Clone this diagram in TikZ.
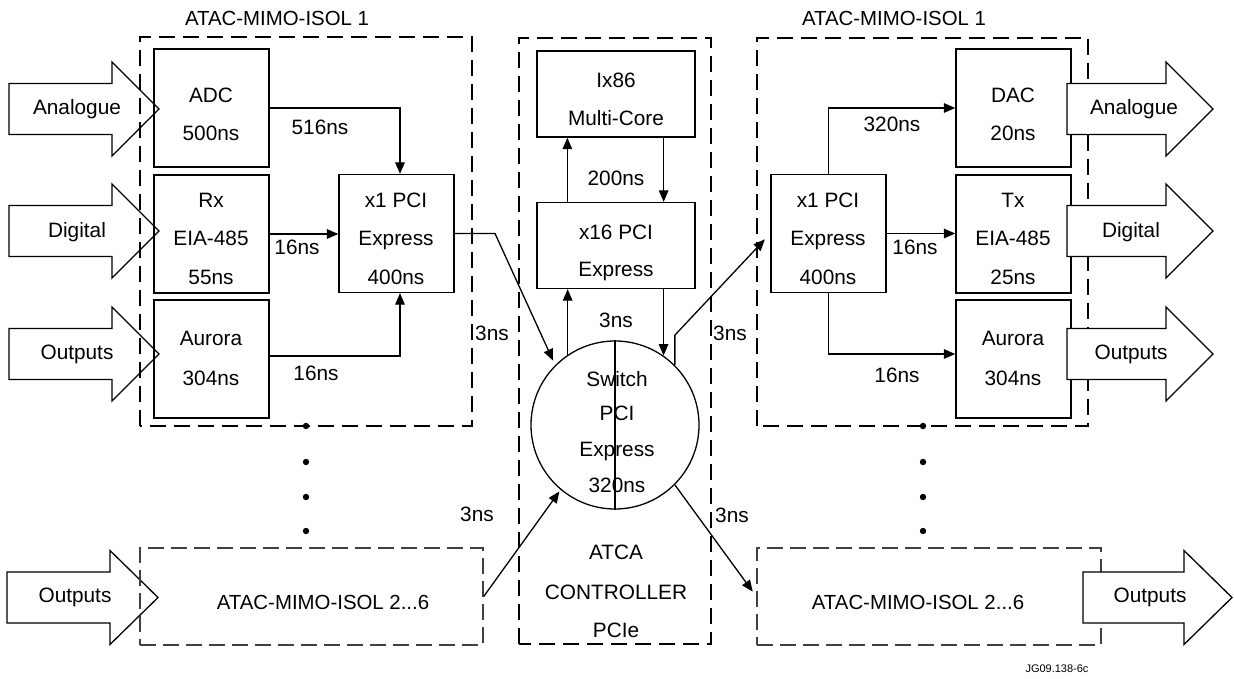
\documentclass[tikz,border=0pt]{standalone}
\usepackage{fontspec}
\setmainfont{Liberation Sans}
\usetikzlibrary{arrows.meta,calc}
\newcommand\bigarr[4]{% x0, xbase, xtip, ycentre
  \draw[lw,fill=white] (#1,#4-25.5) -- (#2,#4-25.5) -- (#2,#4-47) -- (#3,#4) -- (#2,#4+47) -- (#2,#4+25.5) -- (#1,#4+25.5) -- cycle;}
\begin{document}
\begin{tikzpicture}[x=1pt,y=-1pt,
  lw/.style={line width=1.3pt},
  box/.style={draw,line width=1.3pt,minimum width=115pt,minimum height=118pt,inner sep=0pt},
  cbox/.style={draw,line width=1.3pt,minimum width=158pt,minimum height=86pt,inner sep=0pt},
  txt/.style={font=\fontsize{20.8}{24}\selectfont,inner sep=0pt,text height=14.9pt,text depth=0pt},
  ttl/.style={font=\fontsize{20.4}{24}\selectfont,inner sep=0pt,text height=14.6pt,text depth=0pt},
  thickdash/.style={draw,line width=2.6pt,dash pattern=on 16pt off 8pt},
  thindash/.style={draw=black!75,line width=1.4pt,dash pattern=on 16pt off 7pt},
  conn/.style={line width=1.3pt,-{Triangle[length=11.5pt,width=9.5pt]}},
  plain/.style={line width=1.3pt},
  dot/.style={fill=black}
]
\useasboundingbox (0,0) rectangle (1234,679);

% input arrows (left)
\bigarr{9}{112}{159}{109}
\bigarr{9}{112}{159}{231}
\bigarr{9}{112}{159}{354}
\bigarr{7}{110}{158}{597.5}
\node[txt] (tAnaL) at (77,107) {Analogue};
\node[txt] (tDigL) at (77,230) {Digital};
\node[txt] (tOutL) at (77,352) {Outputs};
\node[txt] (tOutBL) at (75,595) {Outputs};

% dashed frames
\draw[thickdash] (140,426) rectangle (472,37);
\draw[thickdash] (519,644) rectangle (711,38);
\draw[thickdash] (757,426) rectangle (1088,38);
\node[thindash,minimum width=343pt,minimum height=97pt,inner sep=0pt] (bl) at (311.5,596.5) {};
\node[thindash,minimum width=344pt,minimum height=97pt,inner sep=0pt] (br) at (929,596.5) {};
\node[ttl] (blt) at (323,602) {ATAC-MIMO-ISOL 2...6};
\node[ttl] (brt) at (918,602) {ATAC-MIMO-ISOL 2...6};

\node[ttl] (titleL) at (277,18) {ATAC-MIMO-ISOL 1};
\node[ttl] (titleR) at (894,18) {ATAC-MIMO-ISOL 1};

% left module boxes
\node[box] (adc) at (211.5,108) {};
\node[box] (rx) at (211.5,234) {};
\node[box] (aurL) at (211.5,359) {};
\node[box] (pciL) at (396.5,233.5) {};
\node[txt] at (211,95) {ADC};
\node[txt] at (211,133) {500ns};
\node[txt] at (211,200) {Rx};
\node[txt] at (211,238) {EIA-485};
\node[txt] at (211,277) {55ns};
\node[txt] at (211,338) {Aurora};
\node[txt] at (211,378) {304ns};
\node[txt] at (396,200) {x1 PCI};
\node[txt] at (396,238) {Express};
\node[txt] at (396,277) {400ns};

% controller
\node[cbox] (ix86) at (616,94) {};
\node[cbox] (x16) at (616,245.5) {};
\node[txt] at (616,80) {Ix86};
\node[txt] at (616,118) {Multi-Core};
\node[txt] at (616,232) {x16 PCI};
\node[txt] at (616,269) {Express};
\node[draw,circle,line width=1.3pt,minimum size=168pt,inner sep=0pt] (sw) at (615,425) {};
\draw[plain] (sw.north) -- (sw.south);
\node[txt] at (617,379) {Switch};
\node[txt] at (617,413) {PCI};
\node[txt] at (617,449) {Express};
\node[txt] at (617,485) {320ns};
\node[txt] at (616,552) {ATCA};
\node[txt] at (616,592) {CONTROLLER};
\node[txt] at (616,630) {PCIe};

% right module boxes
\node[box] (pciR) at (828.5,233.5) {};
\node[box] (dac) at (1013.5,108) {};
\node[box] (tx) at (1013.5,234) {};
\node[box] (aurR) at (1013.5,359) {};
\node[txt] at (828,200) {x1 PCI};
\node[txt] at (828,238) {Express};
\node[txt] at (828,277) {400ns};
\node[txt] at (1013,95) {DAC};
\node[txt] at (1013,133) {20ns};
\node[txt] at (1013,200) {Tx};
\node[txt] at (1013,238) {EIA-485};
\node[txt] at (1013,277) {25ns};
\node[txt] at (1013,338) {Aurora};
\node[txt] at (1013,378) {304ns};

% connectors left module
\draw[conn] (adc.east) -| ($(pciL.north)+(3.5,0)$);
\draw[conn] (rx.east) -- (rx.east -| pciL.west);
\draw[conn] ($(aurL.east)+(0,-3)$) -| ($(pciL.south)+(3.5,0)$);
\coordinate (kL) at (495,233.5);
\draw[conn,shorten >=5pt] (pciL.east) -- (kL) -- (sw.135);

% controller connectors
\draw[conn] ($(x16.north west)+(31,0)$) -- ($(ix86.south west)+(31,0)$);
\draw[conn] ($(ix86.south east)+(-32,0)$) -- ($(x16.north east)+(-32,0)$);
\draw[conn] (sw.124) -- (sw.124 |- x16.south);
\draw[conn] (sw.55 |- x16.south) -- (sw.55);
\draw[conn,shorten >=8pt] (sw.45) -- ++(0,-30) -- (pciR.west);

% connectors right module
\draw[conn] (pciR.north) |- (dac.west);
\draw[conn] (pciR.east) -- (pciR.east -| tx.west);
\draw[conn] (pciR.south) |- ($(aurR.west)+(0,-5)$);

% bottom links
\draw[conn,shorten >=2pt] (bl.east) -- (sw.230);
\draw[conn,shorten >=6pt] (sw.-45) -- (br.west);

% latency labels
\node[txt] at (320,127) {516ns};
\node[txt] at (297,247) {16ns};
\node[txt] at (316,373) {16ns};
\node[txt] at (492,333) {3ns};
\node[txt] at (477,514) {3ns};
\node[txt] at (616,178) {200ns};
\node[txt] at (616,320) {3ns};
\node[txt] at (892,124) {320ns};
\node[txt] at (915,247) {16ns};
\node[txt] at (897,375) {16ns};
\node[txt] at (730,333) {3ns};
\node[txt] at (732,515) {3ns};

% dots
\foreach \yy in {426,462,497,531} {
  \fill (306,\yy) circle (3.2pt);
  \fill (923,\yy) circle (3.2pt);
}

% output arrows (right)
\bigarr{1067}{1166}{1213}{109}
\bigarr{1067}{1166}{1213}{231}
\bigarr{1067}{1166}{1213}{354}
\bigarr{1083}{1184}{1232}{597.5}
\node[txt] (tAnaR) at (1134,107) {Analogue};
\node[txt] (tDigR) at (1131,230) {Digital};
\node[txt] (tOutR) at (1131,352) {Outputs};
\node[txt] (tOutBR) at (1150,595) {Outputs};

\node[font=\fontsize{11}{13}\selectfont,inner sep=0pt] (code) at (1057,669) {JG09.138-6c};
\end{tikzpicture}
\end{document}
